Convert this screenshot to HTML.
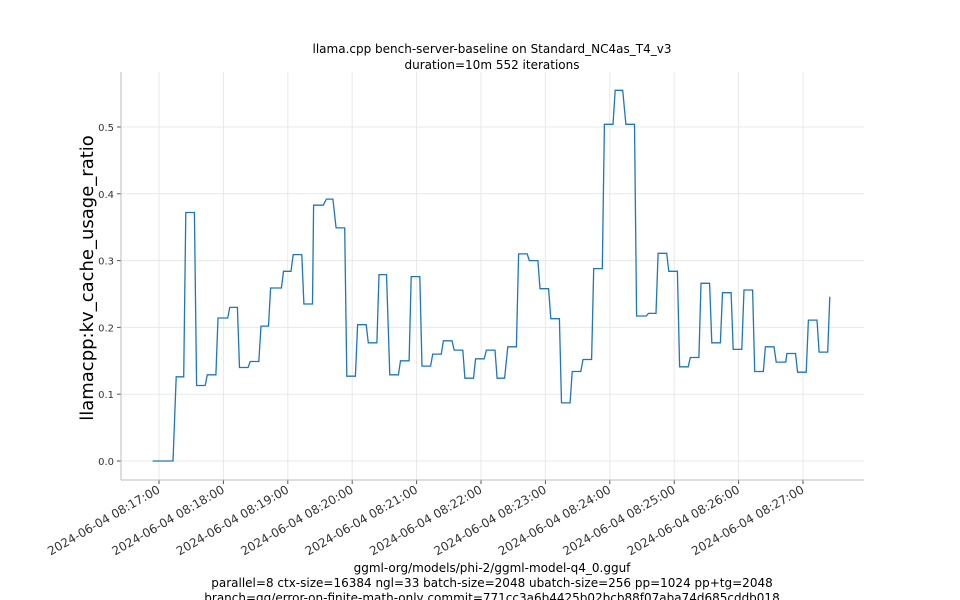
<!DOCTYPE html>
<html><head><meta charset="utf-8"><style>
body{margin:0;background:#fff}
svg{display:block;font-family:"DejaVu Sans","Liberation Sans",sans-serif}
</style></head><body>
<svg id="chart" width="960" height="600" viewBox="0 0 960 600">
<g id="grid"></g>
<g id="yaxis"></g>
<g id="xaxis"></g>
<line x1="121" y1="72" x2="121" y2="480" stroke="#bbb"/>
<line x1="121" y1="480" x2="864" y2="480" stroke="#bbb"/>
<path id="series" fill="none" stroke="#1f77b4" stroke-width="1.3"/>
<text x="492" y="53" font-size="12" text-anchor="middle">llama.cpp bench-server-baseline on Standard_NC4as_T4_v3</text>
<text x="492" y="69" font-size="12" text-anchor="middle">duration=10m 552 iterations</text>
<text transform="translate(93,278) rotate(-90)" font-size="18" text-anchor="middle">llamacpp:kv_cache_usage_ratio</text>
<text x="492" y="572" font-size="12" text-anchor="middle">ggml-org/models/phi-2/ggml-model-q4_0.gguf</text>
<text x="492" y="587" font-size="12" text-anchor="middle">parallel=8 ctx-size=16384 ngl=33 batch-size=2048 ubatch-size=256 pp=1024 pp+tg=2048</text>
<text x="492" y="602" font-size="12" text-anchor="middle">branch=gg/error-on-finite-math-only commit=771cc3a6b4425b02bcb88f07aba74d685cddb018</text>
</svg>
<script>
// seconds since 08:17:00
const times=[-6,13,16,23,25,33,35,43,45,53,55,64,66,73,75,83,85,93,95,102,104,114,116,123,125,133,135,143,144,153,156,162,165,173,175,183,185,193,195,203,205,212,215,223,225,233,235,243,245,253,255,263,265,273,275,283,285,293,295,303,305,313,315,322,325,333,335,343,345,353,355,363,365,373,375,383,385,393,395,403,405,413,415,423,425,432,435,443,445,454,456,463,465,473,475,483,485,493,495,503,505,513,515,523,525,533,535,543,545,553,555,563,565,573,575,584,585,593,595,603,605,613,615,623,625];
const values=[0,0,0.126,0.126,0.372,0.372,0.113,0.113,0.129,0.129,0.214,0.214,0.23,0.23,0.14,0.14,0.149,0.149,0.202,0.202,0.259,0.259,0.284,0.284,0.309,0.309,0.235,0.235,0.383,0.383,0.392,0.392,0.349,0.349,0.127,0.127,0.204,0.204,0.177,0.177,0.279,0.279,0.129,0.129,0.15,0.15,0.276,0.276,0.142,0.142,0.16,0.16,0.18,0.18,0.166,0.166,0.124,0.124,0.153,0.153,0.166,0.166,0.124,0.124,0.171,0.171,0.31,0.31,0.3,0.3,0.258,0.258,0.213,0.213,0.087,0.087,0.134,0.134,0.152,0.152,0.288,0.288,0.504,0.504,0.555,0.555,0.504,0.504,0.217,0.217,0.221,0.221,0.311,0.311,0.284,0.284,0.141,0.141,0.155,0.155,0.266,0.266,0.177,0.177,0.252,0.252,0.167,0.167,0.256,0.256,0.134,0.134,0.171,0.171,0.148,0.148,0.161,0.161,0.133,0.133,0.211,0.211,0.163,0.163,0.246];
const yTicks=[0,0.1,0.2,0.3,0.4,0.5];
const yTickLabels=["0.0","0.1","0.2","0.3","0.4","0.5"];
const xTicks=[0,60,120,180,240,300,360,420,480,540,600];
const xTickLabels=["2024-06-04 08:17:00","2024-06-04 08:18:00","2024-06-04 08:19:00","2024-06-04 08:20:00","2024-06-04 08:21:00","2024-06-04 08:22:00","2024-06-04 08:23:00","2024-06-04 08:24:00","2024-06-04 08:25:00","2024-06-04 08:26:00","2024-06-04 08:27:00"];
const X=t=>159+t*(644/600);
const Y=v=>461-v*668;
const NS="http://www.w3.org/2000/svg";
const grid=document.getElementById('grid'),ya=document.getElementById('yaxis'),xa=document.getElementById('xaxis');
function mk(tag,attrs,parent){const e=document.createElementNS(NS,tag);for(const k in attrs)e.setAttribute(k,attrs[k]);parent.appendChild(e);return e;}
yTicks.forEach((v,i)=>{
  const y=Y(v);
  const g=mk('line',{x1:121,x2:864,y1:y,y2:y,stroke:'#e8e8e8'},grid);
  
  
  const tk=mk('line',{x1:117,x2:121,y1:y,y2:y,stroke:'#555'},ya);
  
  
  const t=mk('text',{x:114,y:y+4,'font-size':10,'text-anchor':'end',fill:'#333'},ya);
  t.textContent=yTickLabels[i];
  
  
});
xTicks.forEach((s,i)=>{
  const x=X(s);
  const g=mk('line',{x1:x,x2:x,y1:72,y2:480,stroke:'#e8e8e8'},grid);
  
  
  const tk=mk('line',{x1:x,x2:x,y1:480,y2:484,stroke:'#555'},xa);
  
  
  const t=mk('text',{transform:`translate(${x+2},${492}) rotate(-30)`,'font-size':12,'text-anchor':'end',fill:'#333'},xa);
  t.textContent=xTickLabels[i];
  
  
});
document.getElementById('series').setAttribute('d',times.map((t,i)=>(i?'L':'M')+X(t).toFixed(1)+' '+Y(values[i]).toFixed(1)).join(''));
</script>
</body></html>
